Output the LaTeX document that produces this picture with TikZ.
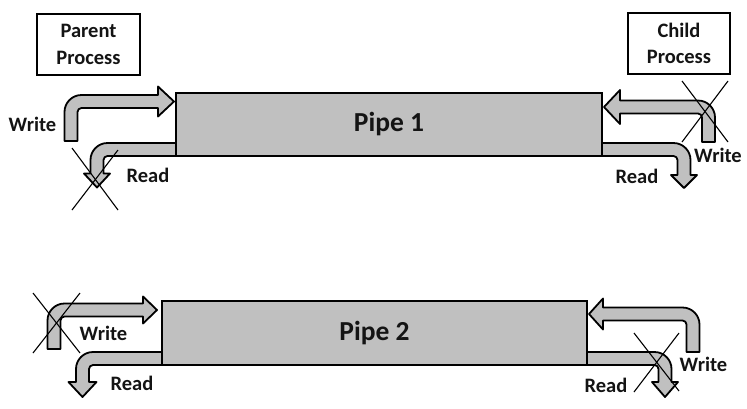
\documentclass[tikz,border=0pt]{standalone}
\usepackage{fontspec}
\setmainfont{Carlito}
\definecolor{pipegray}{RGB}{192,192,192}
\definecolor{txt}{RGB}{20,20,20}
\def\aw{6.5}
\def\aR{17}
\def\ar{4}
% #1 transform, #2 H, #3 L, #4 h, #5 hw
\newcommand{\fatarr}[5]{%
 \begin{scope}[#1]
 \draw[fatstyle] (-\aw,0) -- (-\aw,{#2+\aw-\aR}) arc[start angle=180,end angle=90,radius=\aR]
   -- (#3,{#2+\aw}) -- (#3,{#2+#5}) -- ({#3+#4},#2) -- (#3,{#2-#5}) -- (#3,{#2-\aw})
   -- ({\aw+\ar},{#2-\aw}) arc[start angle=90,end angle=180,radius=\ar] -- (\aw,0) -- cycle;
 \end{scope}}
\tikzset{
  fatstyle/.style={draw=black, fill=pipegray, line width=1.8pt, line join=round},
  pipebox/.style={draw=black, fill=pipegray, line width=2pt, text=txt, font=\bfseries\fontsize{27.5}{30}\selectfont},
  procbox/.style={draw=black, fill=white, line width=1.8pt, align=center, inner sep=0pt, text=txt,
     font=\bfseries\fontsize{20.5}{26.5}\selectfont},
  lbl/.style={font=\bfseries\fontsize{20.5}{24}\selectfont, inner sep=0pt, text=txt},
  xline/.style={draw=black, line width=1.1pt}
}
\begin{document}
\begin{tikzpicture}[x=1pt,y=1pt]
\useasboundingbox (0,0) rectangle (747,-408);
% arrows pipe 1
\fatarr{shift={(71,-141)}}{39.5}{87}{16}{15}
\fatarr{shift={(176,-149.5)},rotate=90,xscale=-1}{79}{24}{14}{13}
\fatarr{shift={(708.5,-142)},xscale=-1}{35}{88.5}{16}{17}
\fatarr{shift={(602,-149.5)},rotate=-90}{82}{25.5}{13}{13}
% arrows pipe 2
\fatarr{shift={(54,-349)}}{39}{89}{14}{13.5}
\fatarr{shift={(162,-358.5)},rotate=90,xscale=-1}{79.5}{23.5}{15}{14}
\fatarr{shift={(693,-352)},xscale=-1}{38}{90}{14}{15.5}
\fatarr{shift={(587,-358.5)},rotate=-90}{78}{23.5}{15}{13}
% pipes
\node[pipebox, minimum width=426pt, minimum height=63pt] (p1) at (389,-124.5) {Pipe 1};
\node[pipebox, minimum width=425pt, minimum height=64pt] (p2) at (374.5,-333) {Pipe 2};
% process boxes
\node[procbox, minimum width=103pt, minimum height=61pt] (parent) at (88.5,-44.5) {Parent\\Process};
\node[procbox, minimum width=102pt, minimum height=61pt] (child) at (679,-43.5) {Child\\Process};
% labels
\node[lbl] (w1l) at (32.5,-124) {Write};
\node[lbl] (r1l) at (148,-175) {Read};
\node[lbl] (w1r) at (718,-155.5) {Write};
\node[lbl] (r1r) at (637,-176) {Read};
\node[lbl] (w2l) at (103.5,-333) {Write};
\node[lbl] (r2l) at (132,-383) {Read};
\node[lbl] (w2r) at (703.5,-364) {Write};
\node[lbl] (r2r) at (606,-385) {Read};
% crosses
\draw[xline] (72,-148) -- (118,-210);
\draw[xline] (118,-150) -- (72,-210);
\draw[xline] (682,-81) -- (728,-142);
\draw[xline] (728,-81) -- (682,-142);
\draw[xline] (33,-293) -- (80,-353);
\draw[xline] (80,-293) -- (33,-353);
\draw[xline] (634,-333) -- (679,-391);
\draw[xline] (679,-333) -- (634,-392);
\end{tikzpicture}
\end{document}
